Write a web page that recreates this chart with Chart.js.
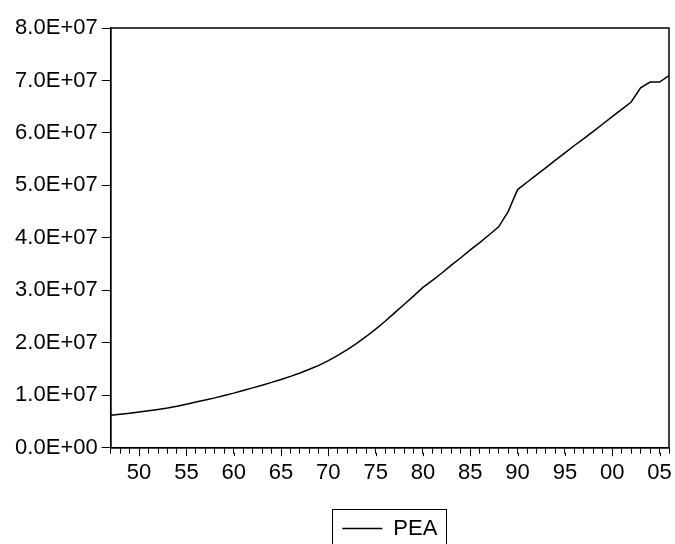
<!DOCTYPE html>
<html>
<head>
<meta charset="utf-8">
<script src="https://cdn.jsdelivr.net/npm/chart.js@4"></script>
<style>
  html, body { margin: 0; padding: 0; background: #fff; }
  #wrap { width: 675px; height: 544px; }
</style>
</head>
<body>
<div id="wrap"><canvas id="peaChart" width="675" height="544"></canvas></div>
<script>
// years on the x axis
const years = [];
for (let y = 1947; y <= 2006; y++) years.push(y);

// PEA series
const peaValues = [
  6.20e6, 6.38e6, 6.58e6, 6.80e6, 7.05e6, 7.30e6, 7.55e6, 7.90e6, 8.30e6, 8.70e6,
  9.10e6, 9.50e6, 9.95e6, 10.40e6, 10.90e6, 11.40e6, 11.90e6, 12.45e6, 13.00e6, 13.60e6,
  14.25e6, 14.95e6, 15.70e6, 16.60e6, 17.60e6, 18.70e6, 19.90e6, 21.20e6, 22.60e6, 24.10e6,
  25.70e6, 27.30e6, 28.90e6, 30.55e6, 31.90e6, 33.30e6, 34.80e6, 36.20e6, 37.70e6, 39.10e6,
  40.60e6, 42.10e6, 45.00e6, 49.20e6, 50.60e6, 52.00e6, 53.40e6, 54.80e6, 56.20e6, 57.60e6,
  58.90e6, 60.30e6, 61.70e6, 63.10e6, 64.50e6, 65.90e6, 68.60e6, 69.70e6, 69.70e6, 70.90e6
];

const seriesName = 'PEA';
const yMin = 0;
const yMax = 8e7;
const yStep = 1e7;

// 8.0E+07 style labels
function sciLabel(v) {
  if (v === 0) return '0.0E+00';
  const e = Math.floor(Math.log10(Math.abs(v)) + 1e-9);
  const m = v / Math.pow(10, e);
  return m.toFixed(1) + 'E+' + String(e).padStart(2, '0');
}

// box round the plot, longer major ticks, box round the legend
const framePlugin = {
  id: 'frame',
  afterDraw(chart) {
    const ctx = chart.ctx;
    const a = chart.chartArea;
    ctx.save();
    ctx.strokeStyle = '#000';
    ctx.lineWidth = 1.5;
    ctx.strokeRect(a.left, a.top, a.right - a.left, a.bottom - a.top);

    // major ticks every 5 years reach a bit lower
    const xs = chart.scales.x;
    ctx.lineWidth = 1;
    ctx.beginPath();
    years.forEach((yr, i) => {
      if (yr % 5 === 0) {
        const px = Math.round(xs.getPixelForTick(i)) + 0.5;
        ctx.moveTo(px, a.bottom + 5);
        ctx.lineTo(px, a.bottom + 8.5);
      }
    });
    ctx.stroke();

    const hb = chart.legend.legendHitBoxes[0];
    if (hb) {
      ctx.lineWidth = 1;
      ctx.strokeStyle = '#000';
      ctx.strokeRect(Math.round(hb.left - 10) + 0.5, Math.round(hb.top - 8.5) + 0.5,
        Math.round(hb.width + 19), 60);
    }
    ctx.restore();
  }
};

const ctx = document.getElementById('peaChart').getContext('2d');
new Chart(ctx, {
  type: 'line',
  data: {
    labels: years,
    datasets: [{
      label: seriesName,
      data: peaValues,
      borderColor: '#000',
      backgroundColor: '#000',
      borderWidth: 1.5,
      pointRadius: 0,
      tension: 0,
      fill: false
    }]
  },
  options: {
    responsive: false,
    animation: false,
    layout: { padding: { left: 0, right: 4.3, top: 28, bottom: -5.5 } },
    plugins: {
      tooltip: { enabled: false },
      legend: {
        position: 'bottom',
        fullSize: false,
        labels: {
          usePointStyle: true,
          pointStyle: 'line',
          pointStyleWidth: 40,
          padding: 10,
          color: '#000',
          font: { family: "'Liberation Sans', Arial, sans-serif", size: 22 }
        }
      }
    },
    scales: {
      x: {
        type: 'category',
        offset: false,
        afterFit(scale) { scale.height = 59.8; },
        grid: {
          drawOnChartArea: false,
          drawTicks: true,
          tickLength: 6,
          tickColor: '#000',
          tickWidth: 1
        },
        border: { display: true, color: '#000', width: 1.5 },
        ticks: {
          autoSkip: false,
          maxRotation: 0,
          minRotation: 0,
          padding: 6,
          color: '#000',
          font: { family: "'Liberation Sans', Arial, sans-serif", size: 22 },
          callback(value) {
            const yr = years[value];
            return yr % 5 === 0 ? String(yr % 100).padStart(2, '0') : '';
          }
        }
      },
      y: {
        min: yMin,
        max: yMax,
        afterFit(scale) { scale.width = 110.7; },
        grid: {
          drawOnChartArea: false,
          tickLength: 9,
          tickColor: '#000',
          tickWidth: 1
        },
        border: { display: true, color: '#000', width: 1.5 },
        ticks: {
          stepSize: yStep,
          padding: 4,
          color: '#000',
          font: { family: "'Liberation Sans', Arial, sans-serif", size: 22 },
          callback(value) { return sciLabel(value); }
        }
      }
    }
  },
  plugins: [framePlugin]
});
</script>
</body>
</html>
